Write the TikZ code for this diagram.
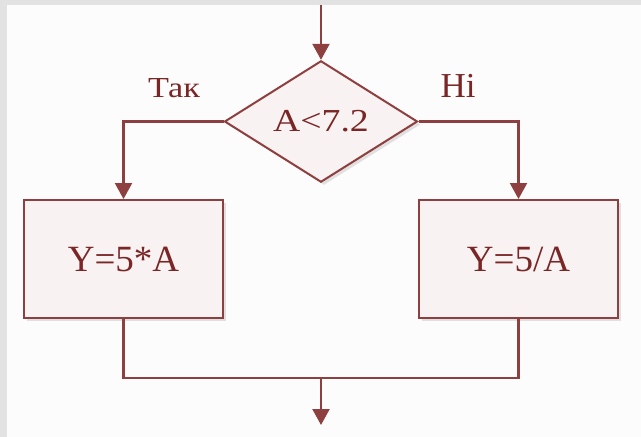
\documentclass[tikz,border=0pt]{standalone}
\usepackage{fontspec}
\setmainfont{Liberation Serif}
\newfontfamily\widefont[FakeStretch=1.18]{Liberation Serif}
\usetikzlibrary{shapes.geometric,arrows.meta,shadows}
\definecolor{edge}{HTML}{8E3F3F}
\definecolor{ink}{HTML}{7A2626}
\definecolor{boxfill}{HTML}{F8F2F2}
\definecolor{paper}{HTML}{FCFCFC}
\definecolor{framegray}{HTML}{E2E2E2}
\begin{document}
\begin{tikzpicture}[x=1pt,y=-1pt,
  flow/.style={draw=edge, line width=2.2pt},
  arr/.style={flow, -{Triangle[width=17pt,length=16pt]}},
  softshadow/.style={drop shadow={shadow xshift=3pt, shadow yshift=-3pt, opacity=0.18, fill=black!60}},
  proc/.style={draw=edge, line width=2pt, fill=boxfill, softshadow,
    minimum width=199pt, minimum height=118pt, inner sep=0pt,
    text=ink, font=\fontsize{37}{40}\selectfont},
  test/.style={diamond, draw=edge, line width=2pt, fill=boxfill, softshadow,
    minimum width=193pt, minimum height=117pt, inner sep=1pt,
    text=ink, font=\widefont\fontsize{32}{36}\selectfont},
  lbl/.style={text=ink, inner sep=0pt}]
\useasboundingbox (0,0) rectangle (641,437);
% page and its edge
\fill[framegray] (0,0) rectangle (641,437);
\fill[paper] (7,5) rectangle (641,437);
% blocks
\coordinate (in) at (321,5);
\node[test] (cond) at (321,121.5) {A<7.2};
\node[proc] (yes) at (123.5,259) {Y=5*A};
\node[proc] (no) at (518.5,259) {Y=5/A};
\coordinate (join) at (321,378);
\coordinate (out) at (321,425);
% connectors
\draw[arr] (in) -- (cond.north);
\draw[arr] (cond.west) -| (yes.north);
\draw[arr] (cond.east) -| (no.north);
\draw[flow] (yes.south) |- (join) -| (no.south);
\draw[arr] (join) -- (out);
% branch labels
\node[lbl, anchor=base, font=\widefont\fontsize{29}{32}\selectfont] (tak) at (174,97) {Так};
\node[lbl, anchor=base, font=\fontsize{35}{38}\selectfont] (ni) at (458,97) {Ні};
\end{tikzpicture}
\end{document}
